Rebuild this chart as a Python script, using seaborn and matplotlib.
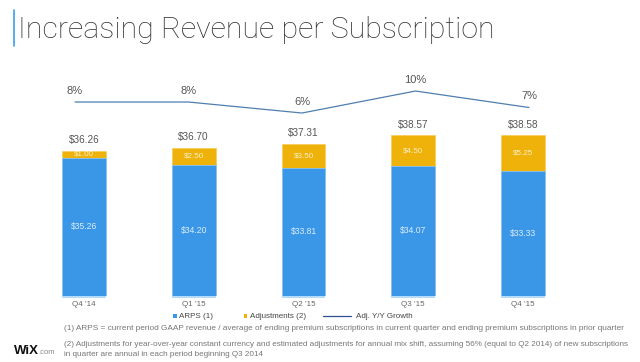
import matplotlib
matplotlib.use("Agg")
import matplotlib.pyplot as plt
import seaborn as sns
import pandas as pd
from matplotlib.lines import Line2D
from matplotlib.patches import Rectangle

sns.set_theme(style="white")
plt.rcParams['font.family'] = ['Liberation Sans', 'DejaVu Sans']

quarters = ["Q4 '14", "Q1 '15", "Q2 '15", "Q3 '15", "Q4 '15"]
arps = [35.26, 34.20, 33.81, 34.07, 33.33]
adjustments = [1.00, 2.50, 3.50, 4.50, 5.25]
totals = [36.26, 36.70, 37.31, 38.57, 38.58]
yy_growth = [8, 8, 6, 10, 7]
legend_labels = ["ARPS (1)", "Adjustments (2)", "Adj. Y/Y Growth"]

BLUE = "#3a97e8"
YELLOW = "#efb20a"
LINE = "#4f7fae"

df = pd.DataFrame({"quarter": quarters, "arps": arps, "adj": adjustments,
                   "total": [a + b for a, b in zip(arps, adjustments)],
                   "growth": yy_growth, "pos": range(len(quarters))})

W, H = 640, 362
fig = plt.figure(figsize=(6.4, 3.62), dpi=100)
rect = [30/W, (H-295.5)/H, 590/W, 235.5/H]
ax = fig.add_axes(rect)

sns.barplot(data=df, x="quarter", y="total", color=YELLOW, width=0.40,
            saturation=1, ax=ax, edgecolor="#f6cf60", linewidth=0.6)
sns.barplot(data=df, x="quarter", y="arps", color=BLUE, width=0.40,
            saturation=1, ax=ax, edgecolor="#8cc6f5", linewidth=0.6)
ybot = 14.85
ax.set_ylim(ybot, ybot + 235.5/6.75)
ax.set_xlim(-0.492, 4.884)
ax.hlines([ybot - 0.2]*len(quarters), [i - 0.2 for i in range(len(quarters))],
          [i + 0.2 for i in range(len(quarters))], color="#a6d4f7", lw=1.2,
          clip_on=False)
for s in ax.spines.values():
    s.set_visible(False)
ax.set_yticks([])
ax.set_xlabel("")
ax.set_ylabel("")
ax.tick_params(axis="x", length=0, pad=4, labelsize=5.8, labelcolor="#666666")

for i in range(len(quarters)):
    ax.text(i, ybot + (arps[i] - ybot) / 2, f"${arps[i]:.2f}", ha="center",
            va="center", fontsize=6.2, color="#dcecfb")
    ax.text(i, arps[i] + adjustments[i] / 2, f"${adjustments[i]:.2f}",
            ha="center", va="center", fontsize=5.8, color="#fbf0cc")
    ax.annotate(f"${totals[i]:.2f}", (i, arps[i] + adjustments[i]),
                xytext=(0, 7.6), textcoords="offset points", ha="center",
                va="center", fontsize=7.2, color="#555555")

ax2 = fig.add_axes(rect)
ax2.patch.set_alpha(0)
sns.lineplot(data=df, x="pos", y="growth", color=LINE, lw=0.9, ax=ax2)
ax2.set_xlim(-0.3965, 4.802)
ax2.set_ylim(15.64 - 235.5/5.5, 15.64)
ax2.axis("off")
for i, g in enumerate(yy_growth):
    ax2.annotate(f"{g}%", (i, g), xytext=(0, 8), textcoords="offset points",
                 ha="center", va="center", fontsize=8, color="#555555")

# Title
fig.text(18/W, 1 - 30/H, "Increasing Revenue per Subscription",
         fontsize=21.9, color="#333333", va="center", ha="left",
         family=["Roboto", "DejaVu Sans"], fontweight="light")
fig.add_artist(Line2D([14/W, 14/W], [1 - 10/H, 1 - 46/H],
                      color="#3aa0f0", lw=1.2))

# Legend (manual layout to match the reference)
ly = 1 - 316/H
fig.add_artist(Rectangle((173/W, ly - 1.8/H), 3.6/W, 3.6/H, color=BLUE, lw=0))
fig.text(179/W, ly, legend_labels[0], fontsize=5.8, color="#444444", va="center")
fig.add_artist(Rectangle((243.5/W, ly - 1.8/H), 3.6/W, 3.6/H, color=YELLOW, lw=0))
fig.text(250/W, ly, legend_labels[1], fontsize=5.8, color="#444444", va="center")
fig.add_artist(Line2D([323/W, 351/W], [ly, ly], color="#2f4f8f", lw=0.9))
fig.text(356/W, ly, legend_labels[2], fontsize=5.8, color="#444444", va="center")

fig.text(64/W, 1 - 328/H,
         "(1) ARPS = current period GAAP revenue / average of ending premium subscriptions in current quarter and ending premium subscriptions in prior quarter",
         fontsize=5.95, color="#777777", va="center")
fig.text(64/W, 1 - 345/H,
         "(2) Adjustments for year-over-year constant currency and estimated adjustments for annual mix shift, assuming 56% (equal to Q2 2014) of new subscriptions",
         fontsize=5.9, color="#777777", va="center")
fig.text(64/W, 1 - 354/H,
         "in quarter are annual in each period beginning Q3 2014",
         fontsize=5.9, color="#777777", va="center")
fig.text(14/W, 1 - 351/H, "WiX", fontsize=9.5, fontweight="bold",
         color="#111111", va="center")
fig.text(38/W, 1 - 352.5/H, ".com", fontsize=5.5, color="#888888", va="center")

fig.savefig("out.png", dpi=100)
